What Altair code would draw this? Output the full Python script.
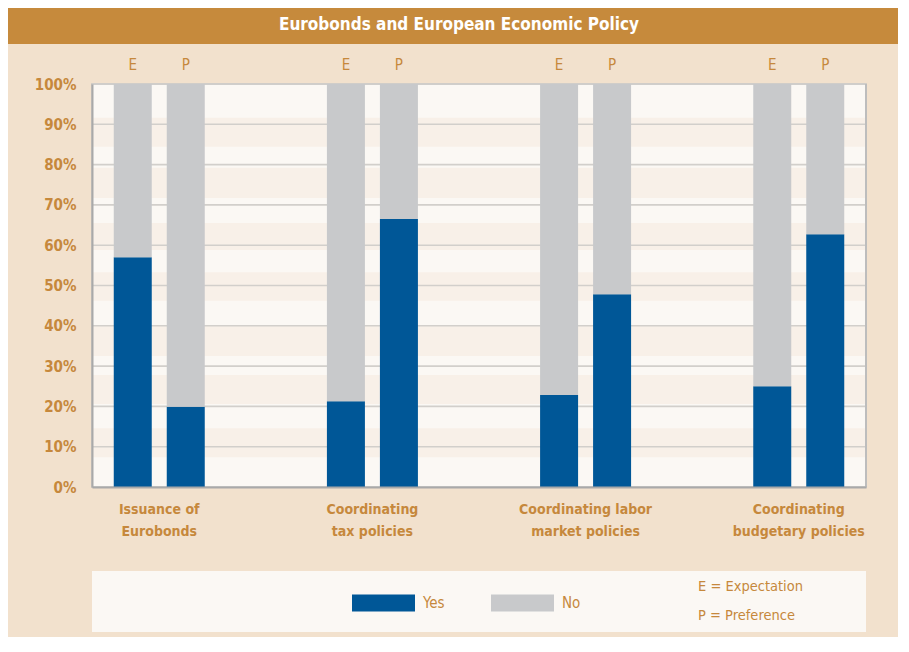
import altair as alt
import pandas as pd

# ---- data ----
categories = ["Issuance of\nEurobonds", "Coordinating\ntax policies",
              "Coordinating labor\nmarket policies", "Coordinating\nbudgetary policies"]
kinds = ["E", "P"]
yes_E = [57.0, 21.3, 22.8, 25.0]
yes_P = [19.9, 66.5, 47.8, 62.7]
answers = ["Yes", "No"]
y_ticks = [0, 10, 20, 30, 40, 50, 60, 70, 80, 90, 100]
stripe_hi = [91.6, 79.2, 65.5, 53.3, 40.0, 27.8, 14.6]
stripe_lo = [84.4, 71.7, 58.8, 46.2, 32.5, 20.6, 7.4]
title_text = "Eurobonds and European Economic Policy"
notes = ["E = Expectation", "P = Preference"]

TAN = "#C6883C"
BLUE = "#005797"
GRAY = "#C8C9CB"
BG = "#F2E1CD"
LIGHT = "#FBF8F4"
DARK = "#F8F0E8"
FONT = "Liberation Sans Narrow, DejaVu Sans Condensed, Roboto Condensed, Roboto, sans-serif"

rows = []
for i, c in enumerate(categories):
    for k, vals in zip(kinds, [yes_E, yes_P]):
        y = vals[i]
        rows.append(dict(category=c, kind=k, answer="Yes", value=y, ord=0))
        rows.append(dict(category=c, kind=k, answer="No", value=round(100 - y, 1), ord=1))
df = pd.DataFrame(rows)
kind_df = pd.DataFrame([dict(category=c, kind=k) for c in categories for k in kinds])
stripes = pd.DataFrame({"lo": stripe_lo, "hi": stripe_hi})
grid = pd.DataFrame({"t": [t for t in y_ticks if t > 0]})

W, H = 774, 403

xscale = alt.Scale(domain=categories, paddingInner=0.5, paddingOuter=0.0655)
xoff = alt.Scale(domain=kinds, paddingInner=0.283, paddingOuter=0.147)
yscale = alt.Scale(domain=[0, 100], nice=False)

stripe_layer = alt.Chart(stripes).mark_rect(color=DARK).encode(
    x=alt.value(0), x2=alt.value("width"),
    y=alt.Y("lo:Q", scale=yscale,
            axis=alt.Axis(values=y_ticks, labelExpr="datum.value + '%'", title=None,
                          grid=False, ticks=False, domainColor="#A9A9A9", domainWidth=2,
                          labelFont=FONT, labelFontSize=15, labelFontWeight="bold",
                          labelColor=TAN, labelPadding=16, zindex=1)),
    y2="hi:Q",
)

grid_layer = alt.Chart(grid).mark_rule(color="#D2CFCB", strokeWidth=1.6).encode(
    x=alt.value(0), x2=alt.value("width"), y=alt.Y("t:Q", scale=yscale),
)

right_border = alt.Chart(pd.DataFrame({"t": [0]})).mark_rule(
    color="#BDBDBD", strokeWidth=2
).encode(x=alt.value("width"), y=alt.value(0), y2=alt.value("height"))

bars = alt.Chart(df).mark_bar().encode(
    x=alt.X("category:N", scale=xscale, sort=categories,
            axis=alt.Axis(title=None, ticks=False, domainColor="#A9A9A9", domainWidth=2,
                          labelAngle=0, labelFont=FONT, labelFontSize=14,
                          labelFontWeight="bold", labelColor=TAN, labelPadding=15,
                          labelLineHeight=22, labelBaseline="top", zindex=1,
                          labelExpr="split(datum.label, '\\n')")),
    xOffset=alt.XOffset("kind:N", scale=xoff, sort=kinds),
    y=alt.Y("value:Q", stack="zero", scale=yscale),
    color=alt.Color("answer:N", scale=alt.Scale(domain=answers, range=[BLUE, GRAY]),
                    legend=alt.Legend(orient="none", legendX=260, legendY=487,
                                      direction="horizontal", title=None,
                                      symbolType="M-1,-0.27H1V0.27H-1Z", symbolSize=3969,
                                      symbolStrokeWidth=0, symbolOpacity=1,
                                      labelFont=FONT, labelFontSize=15, labelColor=TAN,
                                      labelOffset=8, columnPadding=46, padding=0)),
    order=alt.Order("ord:Q", sort="ascending"),
)

kind_labels = alt.Chart(kind_df).mark_text(font=FONT, fontSize=15, color=TAN).encode(
    x=alt.X("category:N", scale=xscale, sort=categories),
    xOffset=alt.XOffset("kind:N", scale=xoff, sort=kinds),
    y=alt.value(-19),
    text="kind:N",
)

title_bar = alt.Chart(pd.DataFrame({"t": [title_text]})).mark_rect(color="#C68A3C").encode(
    x=alt.value(-84), x2=alt.value(806), y=alt.value(-76), y2=alt.value(-40),
)
title_lbl = alt.Chart(pd.DataFrame({"t": [title_text]})).mark_text(
    font=FONT, fontSize=17, fontWeight="bold", color="white"
).encode(x=alt.value(367), y=alt.value(-59), text="t:N")

legend_box = alt.Chart(pd.DataFrame({"t": [0]})).mark_rect(color=LIGHT).encode(
    x=alt.value(0), x2=alt.value("width"), y=alt.value(487), y2=alt.value(548),
)
notes_df = pd.DataFrame({"note": ["\n".join(notes)]})
notes_lbl = alt.Chart(notes_df).transform_calculate(
    lines="split(datum.note, '\\n')"
).mark_text(
    font=FONT, fontSize=14.5, color=TAN, align="left", baseline="middle", lineHeight=29
).encode(
    x=alt.value(606), y=alt.value(503), text="lines:N",
)

chart = alt.layer(
    title_bar, title_lbl, legend_box, stripe_layer, grid_layer, right_border,
    bars, kind_labels, notes_lbl
).properties(
    width=W, height=H,
    autosize=alt.AutoSizeParams(type="none"),
    padding={"left": 84, "top": 76, "right": 32, "bottom": 150},
).configure(background=BG).configure_view(fill=LIGHT, stroke="#BDBDBD", strokeWidth=1.5)

chart.save("out.html", embed_options={"renderer": "svg", "actions": False})
